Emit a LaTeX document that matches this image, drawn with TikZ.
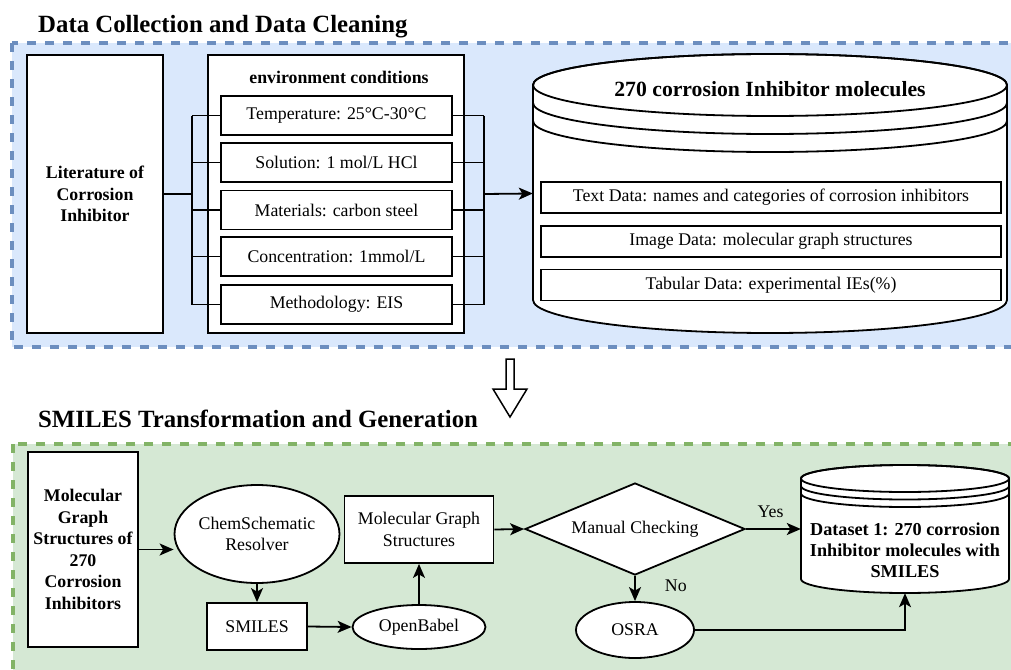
\documentclass[tikz,border=0pt]{standalone}
\usepackage{fontspec}
\setmainfont{Liberation Serif}
\usetikzlibrary{arrows.meta,shapes.geometric}
\definecolor{bluefill}{HTML}{DAE8FC}
\definecolor{bluedraw}{HTML}{6C8EBF}
\definecolor{greenfill}{HTML}{D5E8D4}
\definecolor{greendraw}{HTML}{82B366}
\tikzset{
  box/.style={draw=black, fill=white, line width=1.8pt, inner sep=0pt, align=center,
    font=\fontsize{17.8}{21.6}\selectfont},
  bbox/.style={box, font=\fontsize{17.8}{21.6}\selectfont\bfseries},
  ell/.style={box, ellipse},
  plain/.style={inner sep=0pt, align=center, font=\fontsize{17.8}{21.6}\selectfont},
  title/.style={inner sep=0pt, anchor=base west, font=\fontsize{24.8}{28}\selectfont\bfseries},
  conn/.style={line width=1.8pt, draw=black},
  arr/.style={conn, -{Stealth[length=14pt,width=12pt,inset=3.5pt]}},
  ghost/.style={inner sep=0pt, draw=none},
  secbox/.style={line width=3.2pt, dash pattern=on 9pt off 9pt},
  cyl/.style={line width=1.8pt, draw=black},
}
\begin{document}
\begin{tikzpicture}[x=1pt,y=-1pt]
\useasboundingbox (0,0) rectangle (1011,669);
\fill[white] (0,0) rectangle (1011,669);

% ---------- Section 1 ----------
\node[title] (t1) at (38,33) {Data Collection and Data Cleaning};
\path[secbox, fill=bluefill, draw=bluedraw] (12,43) rectangle (1025,347);

\node[bbox, minimum width=136pt, minimum height=278pt] (lit) at (95,194) {Literature of\\Corrosion\\Inhibitor};
\node[box, minimum width=256pt, minimum height=278pt] (env) at (336,194) {};
\node[plain, font=\fontsize{17.8}{21.6}\selectfont\bfseries] (envt) at (339,77) {environment conditions};

\node[box, minimum width=231pt, minimum height=39pt] (c1) at (336.5,115.5) {Temperature: 25°C-30°C};
\node[box, minimum width=231pt, minimum height=39pt] (c2) at (336.5,162.5) {Solution: 1 mol/L HCl};
\node[box, minimum width=231pt, minimum height=39pt] (c3) at (336.5,210) {Materials: carbon steel};
\node[box, minimum width=231pt, minimum height=39pt] (c4) at (336.5,256.5) {Concentration: 1mmol/L};
\node[box, minimum width=231pt, minimum height=39pt] (c5) at (336.5,304.5) {Methodology: EIS};

\coordinate (busL) at (192,194);
\coordinate (busR) at (484,194);

% cylinder 1
\node[ghost, minimum width=474pt, minimum height=279pt] (db1) at (770,193.5) {};
\path[cyl, fill=white]
  (533,85) -- (533,300) arc[start angle=180, end angle=360, x radius=237pt, y radius=33pt]
  -- (1007,85) arc[start angle=0, end angle=180, x radius=237pt, y radius=31pt] -- cycle;
\draw[cyl] (770,85) ellipse [x radius=237pt, y radius=31pt];
\draw[cyl] (533,103) arc[start angle=180, end angle=360, x radius=237pt, y radius=31pt];
\draw[cyl] (533,121) arc[start angle=180, end angle=360, x radius=237pt, y radius=31pt];
\node[plain, font=\fontsize{21.7}{24}\selectfont\bfseries] (dbt) at (770,89) {270 corrosion Inhibitor molecules};

\node[box, minimum width=460pt, minimum height=31pt] (d1) at (771,197.5) {Text Data: names and categories of corrosion inhibitors};
\node[box, minimum width=460pt, minimum height=31pt] (d2) at (771,241.5) {Image Data: molecular graph structures};
\node[box, minimum width=460pt, minimum height=31pt] (d3) at (771,285) {Tabular Data: experimental IEs(\%)};

\draw[conn] (lit.east) -- (busL);
\draw[conn] (c1.west -| busL) -- (c5.west -| busL);
\draw[conn] (c1.east -| busR) -- (c5.east -| busR);
\foreach \c in {c1,c2,c3,c4,c5}{
  \draw[conn] (\c.west -| busL) -- (\c.west);
  \draw[conn] (\c.east) -- (\c.east -| busR);
}
\draw[arr] (busR) -- (db1.west);

% hollow down arrow
\draw[line width=1.5pt, fill=white] (506,359) -- (514,359) -- (514,389) -- (527,389) -- (510,417) -- (493,389) -- (506,389) -- cycle;

% ---------- Section 2 ----------
\node[title] (t2) at (38,427) {SMILES Transformation and Generation};
\path[secbox, fill=greenfill, draw=greendraw] (13,444) rectangle (1025,690);

\node[bbox, minimum width=110pt, minimum height=195pt] (mol) at (83,549.5) {Molecular\\Graph\\Structures of\\270\\Corrosion\\Inhibitors};
\node[ell, minimum width=158pt, minimum height=98pt] (chem) at (257,534) {ChemSchematic\\Resolver};
\node[box, minimum width=100pt, minimum height=47pt] (smi) at (257,626.5) {SMILES};
\node[ell, minimum width=133pt, minimum height=44pt] (ob) at (419,627) {OpenBabel};
\node[box, minimum width=149pt, minimum height=67pt] (mgs) at (419,529.5) {Molecular Graph\\Structures};
\node[box, diamond, aspect=2.39, minimum width=220pt, minimum height=92pt] (dia) at (635,529) {Manual Checking};
\node[ell, minimum width=118pt, minimum height=56pt] (osra) at (635,630) {OSRA};

% cylinder 2
\node[ghost, minimum width=208pt, minimum height=128pt] (ds2) at (905,529) {};
\path[cyl, fill=white]
  (801,478.5) -- (801,579) arc[start angle=180, end angle=360, x radius=104pt, y radius=14pt]
  -- (1009,478.5) arc[start angle=0, end angle=180, x radius=104pt, y radius=13.5pt] -- cycle;
\draw[cyl] (905,478.5) ellipse [x radius=104pt, y radius=13.5pt];
\draw[cyl] (801,486) arc[start angle=180, end angle=360, x radius=104pt, y radius=13.5pt];
\draw[cyl] (801,493.5) arc[start angle=180, end angle=360, x radius=104pt, y radius=13.5pt];
\node[plain, font=\fontsize{18.2}{21.2}\selectfont\bfseries] (dst) at (905,550) {Dataset 1: 270 corrosion\\Inhibitor molecules with\\SMILES};

\draw[arr] (mol.east) -- (mol.east -| chem.west);
\draw[arr] (chem.south) -- (smi.north);
\draw[arr] (smi.east) -- (ob.west);
\draw[arr] (ob.north) -- (mgs.south);
\draw[arr] (mgs.east) -- (dia.west);
\draw[arr] (dia.east) -- node[plain, above, yshift=10pt, pos=0.45] (yes) {Yes} (ds2.west);
\draw[arr] (dia.south) -- node[plain, right, xshift=29pt, pos=0.4] (no) {No} (osra.north);
\draw[arr] (osra.east) -- (osra.east -| ds2.south) -- (ds2.south);
\end{tikzpicture}
\end{document}
